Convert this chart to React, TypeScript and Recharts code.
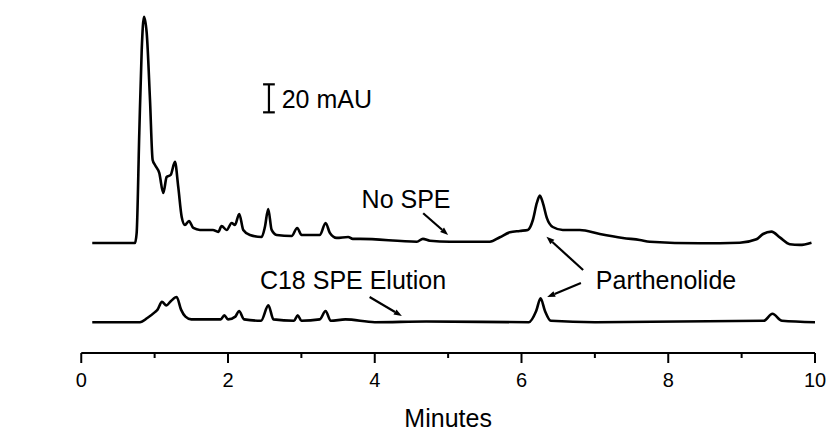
import React from 'react';
import { LineChart, Line, XAxis, YAxis, ReferenceLine, ReferenceDot } from 'recharts';

// retention time (min) and absorbance (mAU above each trace's own baseline)
const noSpeTime = [0.15, 0.732, 0.755, 0.791, 0.824, 0.855, 0.892, 0.937, 0.973, 1.005, 1.063, 1.118, 1.164, 1.219, 1.277, 1.322, 1.369, 1.413, 1.468, 1.527, 1.618, 1.795, 1.867, 1.913, 1.982, 2.05, 2.095, 2.153, 2.208, 2.299, 2.458, 2.503, 2.548, 2.595, 2.663, 2.867, 2.943, 3.003, 3.253, 3.33, 3.389, 3.48, 3.638, 3.7, 3.8, 4.574, 4.656, 4.751, 5.024, 5.568, 5.705, 5.841, 5.977, 6.086, 6.155, 6.209, 6.25, 6.291, 6.345, 6.426, 6.563, 6.794, 7.067, 7.381, 7.612, 7.749, 8.43, 8.975, 9.202, 9.292, 9.407, 9.52, 9.656, 9.792, 9.952];
const noSpeAbs = [0, 0, 7.1, 78.6, 137.9, 161.6, 150, 102.1, 59.3, 55.7, 50, 35.7, 47.1, 48.6, 57.9, 40, 18.6, 12.9, 15.7, 10.7, 9.3, 9.3, 7.9, 12.1, 9.3, 14.3, 12.9, 20.7, 9.3, 5.7, 4.3, 11.4, 24.3, 9.3, 5.7, 5, 10.7, 5.7, 5.7, 14.3, 7.1, 3.6, 4.3, 2.9, 2.9, 0.9, 2.9, 1.6, 0.9, 0.9, 4.1, 7.6, 8.6, 9.3, 16.4, 28.6, 33.8, 28.6, 17.9, 11.4, 9.3, 9.3, 6.4, 3.6, 2.1, 0.9, -0.2, 0.2, 2.6, 6.4, 8.1, 4, -0.9, -1.4, 0.2];

const c18Time = [0.15, 0.8, 0.9, 1.0, 1.04, 1.1, 1.16, 1.22, 1.3, 1.36, 1.42, 1.5, 1.6, 1.9, 1.95, 2.0, 2.1, 2.15, 2.22, 2.45, 2.55, 2.62, 2.9, 2.95, 3.0, 3.25, 3.33, 3.4, 3.6, 4.0, 4.7, 6.1, 6.2, 6.26, 6.32, 6.4, 7.0, 9.3, 9.42, 9.55, 10];
const c18Abs = [0, 0, 3, 7, 9, 14.5, 12, 15, 18, 9, 4, 2, 2, 2, 5, 2, 4, 8, 2, 1, 12, 2, 1, 5, 1, 2, 8, 1, 2, 0, 0.5, 0, 8, 17, 8, 1, 0, 1, 6, 1, 0];

const NO_SPE_OFFSET = 78.6;
const C18_OFFSET = 22;

const allTicks = [0, 1, 2, 3, 4, 5, 6, 7, 8, 9, 10];

// scale bar: 20 mAU
const scaleBarX = 2.558;
const scaleBarBottom = 171.9;
const scaleBarSize = 20;

const labels = [
  { text: 'No SPE', t: 3.821, v: 103.6 },
  { text: 'C18 SPE Elution', t: 2.435, v: 45.7 },
  { text: 'Parthenolide', t: 7.013, v: 45.7 },
  { text: '20 mAU', t: 2.731, v: 174.8 },
];

const arrows = [
  { from: [4.66, 99.8], to: [5.0, 84.3] },
  { from: [3.93, 40], to: [4.37, 26.4] },
  { from: [6.84, 59.3], to: [6.34, 83.1] },
  { from: [6.81, 50], to: [6.35, 40] },
];

const noSpeData = noSpeTime.map((t, i) => ({ t, y: noSpeAbs[i] + NO_SPE_OFFSET }));
const c18Data = c18Time.map((t, i) => ({ t, y: c18Abs[i] + C18_OFFSET }));

const FONT = '"Liberation Sans", Arial, sans-serif';

const AxisTick = ({ x, y, payload }: any) => {
  const major = payload.value % 2 === 0;
  return (
    <g>
      <line x1={x} x2={x} y1={y} y2={y + (major ? 10 : 5)} stroke="#000" strokeWidth={2} />
      {major && (
        <text x={x} y={y + 34} textAnchor="middle" fontSize={20} fontFamily={FONT} fill="#000">
          {payload.value}
        </text>
      )}
    </g>
  );
};

const Arrow = (props: any) => {
  const { x1, y1, x2, y2 } = props;
  const a = Math.atan2(y2 - y1, x2 - x1);
  const L = 8, W = 3;
  const bx = x2 - L * Math.cos(a), by = y2 - L * Math.sin(a);
  const px = -Math.sin(a) * W, py = Math.cos(a) * W;
  return (
    <g>
      <line x1={x1} y1={y1} x2={bx} y2={by} stroke="#000" strokeWidth={2.2} />
      <polygon points={`${x2},${y2} ${bx + px},${by + py} ${bx - px},${by - py}`} fill="#000" />
    </g>
  );
};

export default function App() {
  return (
    <div style={{ position: 'absolute', left: 0, top: 0, background: '#fff' }}>
      <LineChart width={828} height={433} margin={{ top: 10, right: 13, bottom: 30, left: 81.25 }}>
        <XAxis
          type="number"
          dataKey="t"
          domain={[0, 10]}
          ticks={allTicks}
          interval={0}
          height={50}
          tickSize={0}
          tickMargin={0}
          tickLine={false}
          axisLine={{ stroke: '#000', strokeWidth: 2 }}
          tick={<AxisTick />}
          allowDuplicatedCategory={false}
          label={{
            content: (p: any) => (
              <text x={p.viewBox.x + p.viewBox.width / 2} y={p.viewBox.y + 74} textAnchor="middle" fontSize={25} fontFamily={FONT} fill="#000">
                Minutes
              </text>
            ),
          }}
        />
        <YAxis
          type="number"
          domain={[0, 245]}
          width={0}
          axisLine={false}
          tickLine={false}
          tick={false}
          allowDataOverflow
          label={{
            content: () => (
              <text transform="translate(32,202) rotate(-90)" textAnchor="middle" fontSize={25} fontFamily={FONT} fill="#000">
                Absorbance at 210 nm
              </text>
            ),
          }}
        />
        <Line data={noSpeData} dataKey="y" type="monotone" stroke="#000" strokeWidth={2.6} dot={false} isAnimationActive={false} />
        <Line data={c18Data} dataKey="y" type="monotone" stroke="#000" strokeWidth={2.6} dot={false} isAnimationActive={false} />
        <ReferenceLine segment={[{ x: scaleBarX, y: scaleBarBottom }, { x: scaleBarX, y: scaleBarBottom + scaleBarSize }]} stroke="#000" strokeWidth={2.2} />
        <ReferenceLine segment={[{ x: scaleBarX - 0.08, y: scaleBarBottom }, { x: scaleBarX + 0.08, y: scaleBarBottom }]} stroke="#000" strokeWidth={2.2} />
        <ReferenceLine segment={[{ x: scaleBarX - 0.08, y: scaleBarBottom + scaleBarSize }, { x: scaleBarX + 0.08, y: scaleBarBottom + scaleBarSize }]} stroke="#000" strokeWidth={2.2} />
        {arrows.map((a, i) => (
          <ReferenceLine
            key={'a' + i}
            segment={[{ x: a.from[0], y: a.from[1] }, { x: a.to[0], y: a.to[1] }]}
            shape={<Arrow />}
          />
        ))}
        {labels.map((l) => (
          <ReferenceDot
            key={l.text}
            x={l.t}
            y={l.v}
            r={0}
            shape={(p: any) => (
              <text x={p.cx} y={p.cy} fontSize={25} fontFamily={FONT} fill="#000">
                {l.text}
              </text>
            )}
          />
        ))}
      </LineChart>
    </div>
  );
}
